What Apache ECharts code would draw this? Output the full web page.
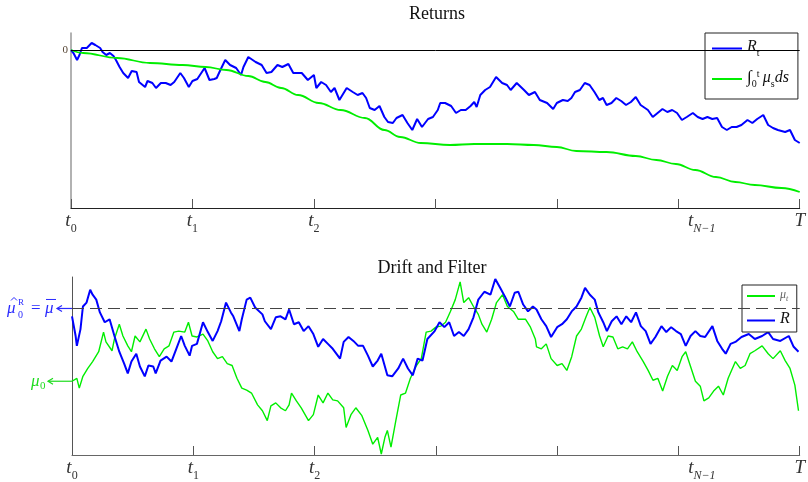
<!DOCTYPE html>
<html>
<head>
<meta charset="utf-8">
<script src="https://cdn.jsdelivr.net/npm/echarts@6/dist/echarts.min.js"></script>
<style>
  html, body { margin: 0; padding: 0; background: #fff; }
  #chart { width: 808px; height: 482px; }
</style>
</head>
<body>
<div id="chart"></div>
<script>
// time runs 0..600, one tick every 100 (t0, t1, t2, ..., tN-1, T)
const tickMain = ['t', 't', 't', '', '', 't', 'T'];
const tickSub = ['0', '1', '2', '', '', 'N\u22121', ''];

// top panel: observed returns R_t
const returnsPath = [[0,0],[2,-0.03],[5,-0.10],[7,-0.05],[9,0.02],[13,0.02],[17,0.07],[20,0.05],[24,0.02],[26,-0.02],[29,-0.05],[32,-0.03],[35,-0.06],[37,-0.10],[40,-0.17],[43,-0.23],[47,-0.28],[50,-0.21],[54,-0.22],[56,-0.32],[61,-0.37],[63,-0.31],[67,-0.33],[70,-0.38],[74,-0.33],[78,-0.33],[82,-0.35],[85,-0.32],[90,-0.23],[93,-0.28],[97,-0.37],[100,-0.31],[104,-0.29],[110,-0.18],[114,-0.30],[118,-0.29],[120,-0.28],[123,-0.20],[127,-0.10],[131,-0.15],[136,-0.18],[140,-0.25],[142,-0.17],[146,-0.07],[152,-0.12],[157,-0.15],[161,-0.23],[165,-0.22],[170,-0.15],[174,-0.17],[179,-0.14],[183,-0.23],[190,-0.23],[195,-0.30],[200,-0.25],[202,-0.38],[206,-0.32],[210,-0.35],[214,-0.42],[217,-0.38],[221,-0.50],[227,-0.38],[232,-0.42],[236,-0.45],[240,-0.43],[243,-0.48],[246,-0.58],[250,-0.60],[254,-0.56],[258,-0.67],[261,-0.72],[265,-0.73],[268,-0.68],[273,-0.65],[277,-0.73],[281,-0.80],[285,-0.69],[289,-0.77],[294,-0.69],[298,-0.67],[302,-0.60],[304,-0.53],[308,-0.53],[313,-0.56],[317,-0.63],[321,-0.60],[325,-0.60],[329,-0.56],[332,-0.52],[334,-0.57],[337,-0.45],[341,-0.40],[345,-0.37],[350,-0.27],[355,-0.33],[359,-0.35],[362,-0.40],[367,-0.33],[373,-0.40],[377,-0.45],[382,-0.42],[386,-0.50],[392,-0.53],[397,-0.59],[400,-0.53],[405,-0.50],[409,-0.51],[412,-0.48],[415,-0.42],[419,-0.40],[423,-0.33],[427,-0.35],[431,-0.42],[435,-0.50],[438,-0.48],[441,-0.55],[445,-0.53],[449,-0.48],[453,-0.51],[457,-0.55],[461,-0.52],[465,-0.47],[469,-0.55],[475,-0.60],[479,-0.67],[483,-0.63],[487,-0.59],[491,-0.62],[495,-0.60],[499,-0.63],[503,-0.70],[507,-0.67],[512,-0.63],[516,-0.67],[520,-0.69],[524,-0.67],[528,-0.69],[532,-0.68],[536,-0.77],[540,-0.80],[544,-0.77],[548,-0.77],[552,-0.75],[557,-0.70],[561,-0.73],[565,-0.69],[570,-0.65],[574,-0.75],[578,-0.78],[582,-0.80],[588,-0.82],[592,-0.80],[596,-0.90],[600,-0.93]];

// top panel: integrated drift
const driftIntegral = [[0,0],[10,-0.03],[38,-0.08],[65,-0.13],[92,-0.15],[111,-0.17],[128,-0.20],[146,-0.26],[160,-0.32],[173,-0.38],[187,-0.45],[204,-0.53],[222,-0.60],[242,-0.68],[258,-0.80],[271,-0.87],[288,-0.93],[312,-0.95],[332,-0.94],[359,-0.94],[381,-0.95],[400,-0.97],[416,-1.01],[441,-1.02],[465,-1.06],[482,-1.10],[498,-1.14],[514,-1.20],[531,-1.27],[547,-1.32],[563,-1.35],[585,-1.38],[600,-1.42]];

// bottom panel: drift mu_t
const driftPath = [[0,0.75],[4,0.78],[6,0.68],[9,0.80],[13,0.88],[17,0.95],[22,1.05],[26,1.25],[28,1.15],[33,1.06],[35,1.18],[39,1.33],[42,1.21],[46,1.11],[49,1.05],[52,1.21],[56,1.15],[61,1.28],[64,1.18],[68,1.08],[72,1.00],[76,1.08],[80,1.11],[84,1.25],[88,1.26],[93,1.25],[96,1.35],[99,1.21],[103,1.20],[108,1.23],[112,1.16],[116,1.05],[120,0.98],[124,1.00],[128,0.93],[132,0.91],[136,0.78],[140,0.68],[144,0.66],[148,0.63],[153,0.51],[157,0.45],[161,0.35],[164,0.50],[168,0.53],[172,0.48],[176,0.45],[179,0.51],[181,0.63],[185,0.55],[189,0.48],[195,0.35],[199,0.41],[203,0.61],[207,0.53],[211,0.63],[215,0.56],[219,0.55],[224,0.48],[226,0.28],[230,0.41],[234,0.48],[239,0.40],[244,0.25],[248,0.11],[252,0.18],[255,0.01],[258,0.18],[260,0.25],[263,0.08],[267,0.35],[271,0.61],[275,0.63],[279,0.78],[284,0.91],[288,0.98],[292,1.25],[296,1.26],[300,1.30],[304,1.31],[308,1.35],[312,1.46],[316,1.58],[320,1.76],[323,1.55],[327,1.60],[331,1.51],[335,1.43],[338,1.33],[342,1.25],[346,1.38],[350,1.55],[355,1.63],[359,1.51],[364,1.46],[368,1.38],[374,1.38],[378,1.30],[382,1.18],[383,1.10],[387,1.08],[391,1.13],[395,0.98],[400,0.91],[404,0.93],[408,0.86],[412,1.00],[416,1.21],[420,1.28],[424,1.41],[427,1.50],[431,1.40],[435,1.21],[438,1.10],[442,1.21],[446,1.20],[450,1.08],[454,1.10],[458,1.08],[462,1.15],[466,1.05],[471,0.95],[475,0.86],[479,0.76],[483,0.78],[487,0.65],[491,0.80],[495,0.91],[499,0.86],[503,1.00],[506,1.05],[510,0.90],[514,0.75],[518,0.70],[521,0.55],[525,0.58],[529,0.65],[533,0.70],[537,0.61],[541,0.78],[547,0.95],[551,0.88],[555,0.91],[559,1.03],[563,1.06],[569,1.11],[574,1.03],[578,0.98],[584,1.06],[588,0.96],[592,0.88],[596,0.71],[599,0.45]];

// bottom panel: filter R
const filterPath = [[0,1.41],[3,1.21],[4,1.11],[7,1.28],[9,1.51],[12,1.55],[15,1.68],[17,1.63],[20,1.58],[23,1.45],[27,1.35],[31,1.38],[35,1.21],[39,1.05],[43,0.93],[46,0.83],[49,0.95],[53,1.03],[56,0.90],[60,0.80],[63,0.91],[67,0.90],[69,0.83],[73,0.96],[78,1.00],[82,0.95],[86,1.08],[90,1.21],[93,1.11],[97,1.01],[99,1.11],[103,1.13],[108,1.35],[112,1.25],[116,1.16],[120,1.26],[123,1.36],[127,1.55],[131,1.45],[133,1.41],[138,1.26],[140,1.38],[144,1.58],[147,1.60],[151,1.50],[157,1.43],[159,1.36],[164,1.28],[168,1.40],[172,1.41],[176,1.38],[179,1.48],[183,1.33],[187,1.35],[191,1.26],[195,1.31],[199,1.23],[203,1.10],[207,1.18],[211,1.13],[215,1.08],[221,0.98],[224,1.15],[228,1.20],[232,1.16],[236,1.11],[240,1.11],[244,1.01],[248,0.90],[252,0.96],[255,1.03],[260,0.81],[264,0.80],[269,0.88],[273,0.98],[277,0.88],[281,0.81],[285,0.98],[289,0.96],[293,1.18],[299,1.26],[303,1.35],[307,1.30],[311,1.35],[315,1.21],[319,1.25],[323,1.21],[327,1.28],[331,1.40],[335,1.58],[340,1.66],[345,1.63],[349,1.79],[353,1.70],[357,1.61],[361,1.51],[365,1.65],[368,1.66],[372,1.53],[376,1.46],[380,1.51],[383,1.48],[387,1.38],[391,1.31],[395,1.20],[400,1.30],[404,1.33],[408,1.38],[412,1.46],[416,1.51],[420,1.60],[423,1.70],[427,1.63],[431,1.58],[434,1.45],[438,1.35],[441,1.26],[445,1.36],[449,1.41],[453,1.33],[457,1.41],[461,1.35],[465,1.45],[469,1.31],[473,1.26],[477,1.13],[481,1.20],[486,1.31],[490,1.25],[494,1.30],[498,1.26],[502,1.23],[506,1.11],[510,1.21],[514,1.26],[518,1.21],[522,1.20],[528,1.31],[532,1.16],[536,1.08],[539,1.03],[543,1.13],[547,1.15],[552,1.20],[558,1.23],[563,1.18],[569,1.21],[574,1.25],[578,1.18],[584,1.16],[591,1.21],[595,1.10],[599,1.05]];

const muBar = 1.49; // long-run mean, also the filter start
const mu0 = 0.75;   // initial drift

const SERIF = "'Liberation Serif', 'DejaVu Serif', serif";
const BLUE = '#0000ff';
const GREEN = '#00ee00';

const tickRich = {
  it: { fontFamily: SERIF, fontStyle: 'italic', fontSize: 19, color: '#333', verticalAlign: 'bottom', padding: [0, 0, 5, 0] },
  sub: { fontFamily: SERIF, fontSize: 12, color: '#333', verticalAlign: 'bottom' },
  subi: { fontFamily: SERIF, fontStyle: 'italic', fontSize: 12, color: '#333', verticalAlign: 'bottom' },
  padL: { width: 47 },
};

function tickLabel(v) {
  const i = Math.round(v / 100);
  if (!tickMain[i]) return '';
  let s = i === 5 ? '{padL| }' : '';
  s += '{it|' + tickMain[i] + '}';
  if (tickSub[i]) s += (i === 5 ? '{subi|' : '{sub|') + tickSub[i] + '}';
  return s;
}

function xAxisFor(grid, lineColor) {
  return {
    type: 'value', gridIndex: grid, min: 0, max: 600, interval: 100,
    axisLine: { show: true, onZero: false, lineStyle: { color: lineColor, width: 1 } },
    axisTick: { show: true, inside: true, length: 9, lineStyle: { color: '#555' } },
    axisLabel: { margin: 3, formatter: tickLabel, rich: tickRich },
    splitLine: { show: false },
  };
}

const legendRich = {
  it: { fontFamily: SERIF, fontStyle: 'italic', fontSize: 16, color: '#111', verticalAlign: 'bottom', padding: [0, 0, 3, 0] },
  up: { fontFamily: SERIF, fontSize: 17, color: '#111', verticalAlign: 'bottom', padding: [0, 0, 3, 0] },
  sub: { fontFamily: SERIF, fontSize: 10, color: '#111', verticalAlign: 'bottom' },
  sup: { fontFamily: SERIF, fontSize: 10, color: '#111', verticalAlign: 'top' },
  mu: { fontFamily: SERIF, fontStyle: 'italic', fontSize: 12, color: '#666', verticalAlign: 'bottom', padding: [0, 0, 2, 0] },
  musub: { fontFamily: SERIF, fontStyle: 'italic', fontSize: 8, color: '#666', verticalAlign: 'bottom' },
};
const legendText = {
  Rt: '{it|R}{sub|t}',
  intMu: '{up|\u222B}{sub|0}{sup|t} {it|\u03BC}{sub|s}{it|ds}',
  mu: '{mu|\u03BC}{musub|t}',
  R: '{it|R}',
};

const chart = echarts.init(document.getElementById('chart'), null, { renderer: 'canvas' });

chart.setOption({
  animation: false,
  backgroundColor: '#fff',
  title: [
    { text: 'Returns', left: 432, top: 0, textAlign: 'center',
      textStyle: { fontFamily: SERIF, fontSize: 18, fontWeight: 'normal', color: '#111' } },
    { text: 'Drift and Filter', left: 427, top: 254, textAlign: 'center',
      textStyle: { fontFamily: SERIF, fontSize: 18, fontWeight: 'normal', color: '#111' } },
  ],
  grid: [
    { left: 71, top: 33, width: 734, height: 175 },
    { left: 72, top: 277, width: 733, height: 181 },
  ],
  xAxis: [xAxisFor(0, '#222'), xAxisFor(1, '#666')],
  yAxis: [
    { type: 'value', gridIndex: 0, min: -1.58, max: 0.17,
      axisLine: { show: true, lineStyle: { color: '#999', width: 1.5 } },
      axisTick: { show: false }, axisLabel: { show: false }, splitLine: { show: false } },
    { type: 'value', gridIndex: 1, min: 0, max: 1.81,
      axisLine: { show: true, lineStyle: { color: '#555', width: 1 } },
      axisTick: { show: false }, axisLabel: { show: false }, splitLine: { show: false } },
  ],
  legend: [
    { data: ['Rt', 'intMu'], left: 705, top: 33, orient: 'vertical',
      backgroundColor: '#fff', borderColor: '#222', borderWidth: 1, borderRadius: 0,
      padding: [6, 9, 10, 7], itemGap: 11, itemWidth: 30, itemHeight: 2, icon: 'rect',
      formatter: (n) => legendText[n], textStyle: { rich: legendRich } },
    { data: ['mu', 'R'], left: 742, top: 285, orient: 'vertical',
      backgroundColor: '#fff', borderColor: '#222', borderWidth: 1, borderRadius: 0,
      padding: [4, 7, 5, 5], itemGap: 8, itemWidth: 28, itemHeight: 2, icon: 'rect',
      formatter: (n) => legendText[n], textStyle: { rich: legendRich } },
  ],
  series: [
    { name: 'Rt', type: 'line', xAxisIndex: 0, yAxisIndex: 0, data: returnsPath,
      symbol: 'none', color: BLUE, lineStyle: { color: BLUE, width: 2 },
      markLine: {
        silent: true, symbol: 'none',
        lineStyle: { color: '#000', type: 'solid', width: 1 },
        label: { show: true, position: 'start', distance: 3, formatter: '0',
          fontFamily: SERIF, fontSize: 11, color: '#543' },
        data: [{ yAxis: 0 }],
      } },
    { name: 'intMu', type: 'line', xAxisIndex: 0, yAxisIndex: 0, data: driftIntegral,
      symbol: 'none', smooth: 0.4, smoothMonotone: 'x', color: GREEN,
      lineStyle: { color: GREEN, width: 1.8 } },
    { name: 'mu', type: 'line', xAxisIndex: 1, yAxisIndex: 1, data: driftPath,
      symbol: 'none', color: GREEN, lineStyle: { color: GREEN, width: 1.4 } },
    { name: 'R', type: 'line', xAxisIndex: 1, yAxisIndex: 1, data: filterPath,
      symbol: 'none', color: BLUE, lineStyle: { color: BLUE, width: 2 },
      markLine: {
        silent: true, symbol: 'none', label: { show: false },
        lineStyle: { color: '#444', type: [12, 6], width: 1.2 },
        data: [{ yAxis: muBar }],
      } },
  ],
});

// left-hand notes with arrows to the axis, anchored through the bottom grid's scales
function arrowTo(value, color, len) {
  const [x, y] = chart.convertToPixel({ gridIndex: 1 }, [0, value]);
  return { x, y, els: [
    { type: 'line', silent: true, shape: { x1: x - len, y1: y, x2: x, y2: y },
      style: { stroke: color, lineWidth: 1.2 } },
    { type: 'polyline', silent: true, shape: { points: [[x - len + 5, y - 3], [x - len, y], [x - len + 5, y + 3]] },
      style: { stroke: color, lineWidth: 1.2, fill: null } },
  ] };
}

function txt(x, y, text, size, color, italic) {
  return { type: 'text', silent: true, x, y,
    style: { text, fill: color, fontFamily: SERIF, fontSize: size,
      fontStyle: italic ? 'italic' : 'normal', align: 'left', verticalAlign: 'middle' } };
}

const NOTE_BLUE = '#2a2aff';
const NOTE_GREEN = '#1ddc1d';
const a = arrowTo(muBar, NOTE_BLUE, 15);
const b = arrowTo(mu0, NOTE_GREEN, 24);

chart.setOption({
  graphic: [
    ...a.els,
    // mu-hat_0^R
    txt(a.x - 65, a.y, '\u03BC', 17, NOTE_BLUE, true),
    { type: 'polyline', silent: true, shape: { points: [[a.x - 61, a.y - 8], [a.x - 58, a.y - 11], [a.x - 55, a.y - 8]] },
      style: { stroke: NOTE_BLUE, lineWidth: 1, fill: null } },
    txt(a.x - 54, a.y - 6, 'R', 9, NOTE_BLUE, false),
    txt(a.x - 54, a.y + 7, '0', 10, NOTE_BLUE, false),
    // = mu-bar
    txt(a.x - 41, a.y, '=', 17, NOTE_BLUE, false),
    txt(a.x - 27, a.y, '\u03BC', 17, NOTE_BLUE, true),
    { type: 'line', silent: true, shape: { x1: a.x - 26, y1: a.y - 9, x2: a.x - 16, y2: a.y - 9 },
      style: { stroke: NOTE_BLUE, lineWidth: 1 } },
    ...b.els,
    txt(b.x - 41, b.y, '\u03BC', 17, NOTE_GREEN, true),
    txt(b.x - 32, b.y + 5, '0', 11, NOTE_GREEN, false),
  ],
});

window.addEventListener('resize', () => chart.resize());
</script>
</body>
</html>
